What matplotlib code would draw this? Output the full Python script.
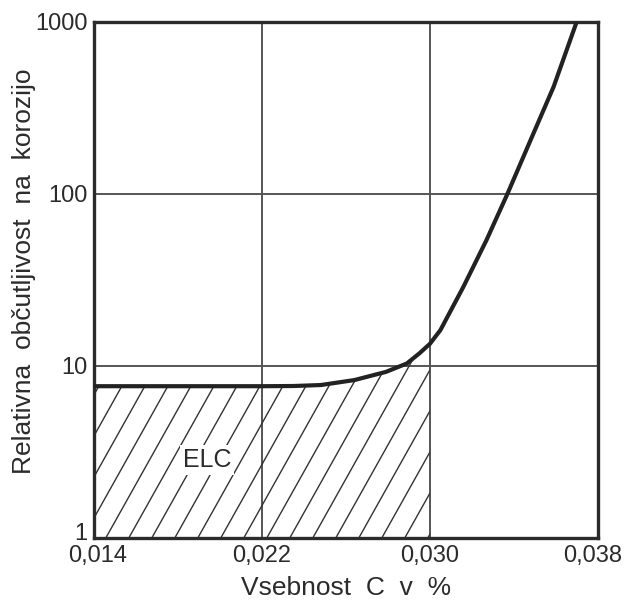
import numpy as np
import matplotlib
matplotlib.use("Agg")
import matplotlib.pyplot as plt
import matplotlib.transforms as mtransforms
from matplotlib.patches import Polygon
from matplotlib.collections import LineCollection

plt.rcParams['font.family'] = ['Liberation Sans', 'DejaVu Sans']

# data
carbon = [0.014, 0.018, 0.022, 0.0235, 0.0248, 0.0264, 0.0279, 0.0289, 0.0295,
          0.0300, 0.0305, 0.0316, 0.0327, 0.0337, 0.0348, 0.0359, 0.0370]
sensitivity = [7.6, 7.6, 7.6, 7.62, 7.72, 8.25, 9.2, 10.3, 11.8,
               13.4, 16.1, 28.8, 53.8, 100.0, 205.0, 419.0, 1000.0]
elc_limit = 0.030
x_ticks = [0.014, 0.022, 0.030, 0.038]
x_ticklabels = ["0,014", "0,022", "0,030", "0,038"]
y_ticks = [1, 10, 100, 1000]
y_ticklabels = ["1", "10", "100", "1000"]

ink = "#2b2b2b"
W, H = 625, 602
fig = plt.figure(figsize=(W / 100, H / 100), dpi=100)
ax = fig.add_axes([94.3 / W, 1 - 537.7 / H, 503.4 / W, 516 / H])
ax.set_yscale('log')
ax.set_xlim(x_ticks[0], x_ticks[-1])
ax.set_ylim(y_ticks[0], y_ticks[-1])

ax.set_xticks(x_ticks)
ax.set_xticklabels(x_ticklabels)
ax.set_yticks(y_ticks)
ax.set_yticklabels(y_ticklabels)
ax.yaxis.set_minor_locator(matplotlib.ticker.NullLocator())
ax.tick_params(length=0, labelsize=17, colors=ink)
ax.tick_params(axis='y', pad=5)
ax.tick_params(axis='x', pad=5)


def nudge(label, dx_px, dy_px):
    label.set_transform(label.get_transform() +
                        mtransforms.ScaledTranslation(dx_px / 100, dy_px / 100,
                                                      fig.dpi_scale_trans))


# lift the bottom "1" label slightly and keep the last x label inside
nudge(ax.get_yticklabels()[0], 0, 6)
nudge(ax.get_xticklabels()[0], 3, 0)
nudge(ax.get_xticklabels()[-1], -5, 0)

ax.grid(True, color="#555555", linewidth=1.4)
ax.set_axisbelow(True)
for s in ax.spines.values():
    s.set_linewidth(2.4)
    s.set_color(ink)

# ELC hatched region under the curve up to x = 0.030
cx = np.array(carbon)
cy = np.array(sensitivity)
mask = cx <= elc_limit
verts = [(cx[0], 1.0)] + list(zip(cx[mask], cy[mask])) + [(elc_limit, 1.0)]
clip = Polygon(verts, closed=True, transform=ax.transData,
               facecolor='none', edgecolor='none')
ax.add_patch(clip)

# hatch lines in axes-pixel geometry
ax_w, ax_h = 503.4, 516.0
spacing = 23.0 / ax_w
run = 0.56 * ax_h / ax_w
starts = np.arange(0.018 - 1.0, 1.0, spacing)
segs = [[(s, 0.0), (s + run, 1.0)] for s in starts]
lc = LineCollection(segs, colors="#333333", linewidths=1.0, transform=ax.transAxes)
lc.set_clip_path(clip)
ax.add_collection(lc)

ax.plot(carbon, sensitivity, color="#222222", linewidth=3.0,
        solid_capstyle='round', solid_joinstyle='round', zorder=5)

ax.text(0.01937, 2.83, "ELC", fontsize=18, color=ink, ha='center', va='center',
        zorder=6, bbox=dict(facecolor='white', edgecolor='none', pad=2))

ax.set_xlabel("Vsebnost  C  v  %", fontsize=19, color=ink, labelpad=7)
ax.set_ylabel("Relativna  občutljivost  na  korozijo", fontsize=19, color=ink)
ax.yaxis.set_label_coords((36 - 94.3) / 503.4, (537.7 - 271) / 516)

fig.savefig("out.png", dpi=100, facecolor='white')
